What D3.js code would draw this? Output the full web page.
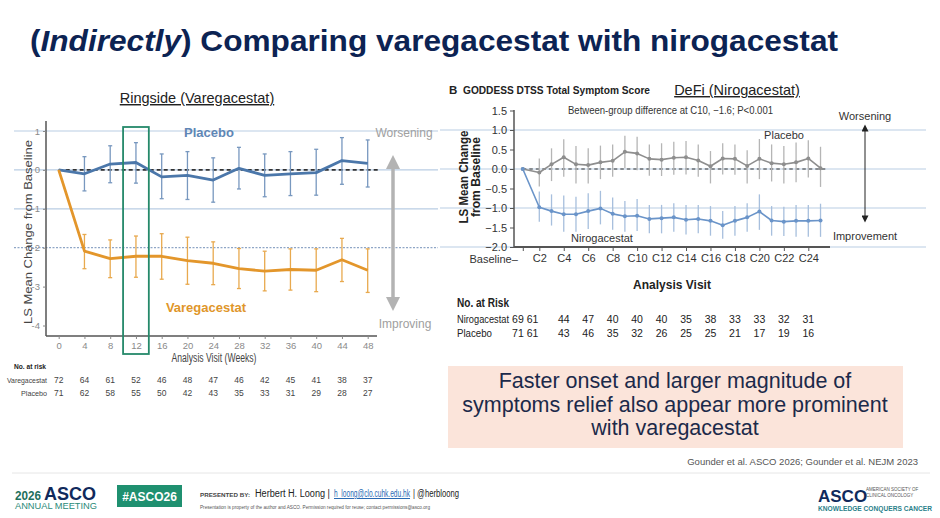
<!DOCTYPE html>
<html>
<head>
<meta charset="utf-8">
<script src="https://cdn.jsdelivr.net/npm/d3@7"></script>
<style>
  body { margin:0; background:#fff; }
  svg { display:block; }
  text { font-family:"Liberation Sans", Arial, sans-serif; }
  .nar { font-family:"Roboto","Liberation Sans",sans-serif; }
  .nejm { font-family:"Lato","Open Sans",sans-serif; }
</style>
</head>
<body>
<div id="slide"></div>
<script>
(function(){
"use strict"
//---Ringside vs DeFi slide---

// left panel: Ringside (weeks)
var weeks = [0,4,8,12,16,20,24,28,32,36,40,44,48];
var plaL    = [0,-0.10,0.15,0.19,-0.18,-0.14,-0.26,0.04,-0.14,-0.10,-0.07,0.24,0.17];
var plaL_hi = [0,0.34,0.62,0.70,0.41,0.47,0.31,0.58,0.41,0.47,0.53,0.83,0.77];
var plaL_lo = [0,-0.54,-0.33,-0.34,-0.74,-0.76,-0.83,-0.49,-0.69,-0.66,-0.65,-0.37,-0.44];
var vare    = [0,-2.09,-2.28,-2.22,-2.22,-2.33,-2.40,-2.54,-2.60,-2.56,-2.58,-2.31,-2.58];
var vare_hi = [0,-1.66,-1.80,-1.70,-1.64,-1.73,-1.85,-2.02,-2.09,-2.03,-2.03,-1.76,-2.03];
var vare_lo = [0,-2.54,-2.77,-2.76,-2.81,-2.94,-2.95,-3.05,-3.11,-3.09,-3.13,-2.87,-3.15];
var yTicksL = [1,0,-1,-2,-3,-4];
var riskVare = [72,64,61,52,46,48,47,46,42,45,41,38,37];
var riskPlaL = [71,62,58,55,50,42,43,35,33,31,29,28,27];
var boxWeeks = [10,14];

// right panel: DeFi (cycles, baseline drawn at 0.65)
var cycles = [0.65,2,3,4,5,6,7,8,9,10,11,12,13,14,15,16,17,18,19,20,21,22,23,24,25];
var plaR    = [0,-0.09,0.12,0.30,0.12,0.10,0.17,0.21,0.44,0.40,0.26,0.24,0.29,0.30,0.22,0.07,0.27,0.26,0.08,0.26,0.15,0.12,0.17,0.27,0.02];
var plaR_hi = [0,0.27,0.53,0.76,0.59,0.53,0.60,0.63,0.85,0.83,0.63,0.66,0.70,0.72,0.63,0.46,0.66,0.63,0.48,0.77,0.63,0.59,0.68,0.74,0.57];
var plaR_lo = [0,-0.45,-0.31,-0.20,-0.37,-0.37,-0.26,-0.20,0.02,-0.03,-0.17,-0.18,-0.15,-0.14,-0.20,-0.37,-0.14,-0.15,-0.37,-0.26,-0.32,-0.37,-0.34,-0.22,-0.46];
var niro    = [0,-0.98,-1.08,-1.16,-1.16,-1.08,-1.01,-1.15,-1.21,-1.20,-1.28,-1.26,-1.24,-1.30,-1.28,-1.33,-1.44,-1.33,-1.24,-1.09,-1.32,-1.35,-1.33,-1.33,-1.32];
var niro_hi = [0,-0.58,-0.65,-0.68,-0.71,-0.62,-0.56,-0.73,-0.82,-0.77,-0.92,-0.92,-0.88,-0.92,-0.92,-0.95,-1.08,-0.95,-0.88,-0.65,-0.95,-0.97,-0.92,-0.92,-0.89];
var niro_lo = [0,-1.35,-1.45,-1.61,-1.61,-1.54,-1.42,-1.56,-1.61,-1.59,-1.65,-1.65,-1.61,-1.68,-1.65,-1.71,-1.79,-1.71,-1.61,-1.56,-1.71,-1.72,-1.74,-1.74,-1.74];
var xTickR = [2,4,6,8,10,12,14,16,18,20,22,24];
var yTicksR = [1.5,1.0,0.5,0,-0.5,-1.0,-1.5,-2.0];
var riskCycles = [0.25,1.45,4,6,8,10,12,14,16,18,20,22,24];
var riskNiro = [69,61,44,47,40,40,40,35,38,33,33,32,31];
var riskPlaR = [71,61,43,46,35,32,26,25,25,21,17,19,16];

var summary = ["Faster onset and larger magnitude of",
               "symptoms relief also appear more prominent",
               "with varegacestat"];

var W = 940, H = 518;

var svg = d3.select('#slide').append('svg')
	.attr('width',W)
	.attr('height',H);

// squeeze a text to a given width (stands in for the narrow fonts of the slide)
function fit(sel,w){
	return sel.attr('textLength',w).attr('lengthAdjust','spacingAndGlyphs');
}

var defs = svg.append('defs');
function marker(id,color,w,h){
	defs.append('marker')
		.attr('id',id)
		.attr('viewBox','0 0 10 10')
		.attr('refX',5).attr('refY',5)
		.attr('markerWidth',w).attr('markerHeight',h)
		.attr('orient','auto-start-reverse')
		.attr('markerUnits','userSpaceOnUse')
		.append('path')
			.attr('d','M0,0L10,5L0,10Z')
			.style('fill',color);
}
marker('arrGray','#b3b3b3',16,14);
marker('arrBlack','#222',8,7);

// title
var title = svg.append('text')
	.attr('x',30).attr('y',51)
	.style('font-size','30px')
	.style('font-weight','bold')
	.style('fill','#0c2353');
title.append('tspan').text('(');
title.append('tspan').style('font-style','italic').text('Indirectly');
title.append('tspan').text(') Comparing varegacestat with nirogacestat');
fit(title,808);

//********left panel********
var xL = d3.scaleLinear().domain([0,48]).range([58.7,367.7]);
var yL = d3.scaleLinear().domain([-4,1]).range([325.5,131]);

var gL = svg.append('g');

// slide guide lines
[1,0,-1,-2].forEach(function(v){
	gL.append('line')
		.attr('x1',14).attr('x2',438)
		.attr('y1',yL(v)).attr('y2',yL(v))
		.style('stroke', v===-2 ? '#8fa6c6' : '#b9cde3')
		.style('stroke-width',1.2)
		.style('stroke-dasharray', (v===-2) ? '2,1.5' : null);
});

gL.append('text')
	.attr('x',197).attr('y',103)
	.attr('text-anchor','middle')
	.style('font-size','14.5px')
	.style('fill','#222')
	.style('text-decoration','underline')
	.text('Ringside (Varegacestat)');

// axes
var axL = gL.append('g')
	.attr('class','nar')
	.attr('transform','translate(46,0)')
	.call(d3.axisLeft(yL).tickValues(yTicksL).tickSize(3).tickPadding(3).tickFormat(function(d){return String(d);}));
axL.select('.domain').attr('d','M0,121V336').style('stroke','#555').style('stroke-width',1.5);

var axB = gL.append('g')
	.attr('class','nar')
	.attr('transform','translate(0,336)')
	.call(d3.axisBottom(xL).tickValues(weeks).tickSize(3).tickFormat(function(d){return String(d);}));
axB.select('.domain').attr('d','M46,0H377').style('stroke','#555').style('stroke-width',1.5);
[axL,axB].forEach(function(a){
	a.selectAll('text').style('fill','#8a8a8a').style('font-size','9.5px');
	a.selectAll('.tick line').style('stroke','#888');
});

fit(gL.append('text')
	.attr('transform','translate(32,232) rotate(-90)')
	.attr('text-anchor','middle')
	.style('font-size','11px')
	.style('fill','#444')
	.text('LS Mean Change from Baseline'),184);

fit(gL.append('text')
	.attr('x',214).attr('y',362)
	.attr('text-anchor','middle')
	.style('font-size','12px')
	.style('fill','#444')
	.text('Analysis Visit (Weeks)'),85);

// zero reference
gL.append('line')
	.attr('x1',xL(0)).attr('x2',xL(48)+10)
	.attr('y1',yL(0)).attr('y2',yL(0))
	.style('stroke','#333')
	.style('stroke-width',1.6)
	.style('stroke-dasharray','4,3');

function errBars(g,x,y,xs,hi,lo,color,cap){
	xs.forEach(function(d,i){
		if (hi[i]===lo[i]) {return;}
		g.append('line')
			.attr('x1',x(d)).attr('x2',x(d))
			.attr('y1',y(hi[i])).attr('y2',y(lo[i]))
			.style('stroke',color).style('stroke-width',1.3);
		if (cap) {
			[hi[i],lo[i]].forEach(function(v){
				g.append('line')
					.attr('x1',x(d)-cap).attr('x2',x(d)+cap)
					.attr('y1',y(v)).attr('y2',y(v))
					.style('stroke',color).style('stroke-width',1.3);
			});
		}
	});
}

function drawLine(g,x,y,xs,vals,color,w){
	g.append('path')
		.datum(vals)
		.attr('d',d3.line().x(function(d,i){return x(xs[i]);}).y(function(d){return y(d);}))
		.style('fill','none')
		.style('stroke',color)
		.style('stroke-width',w)
		.style('stroke-linejoin','round');
}

errBars(gL,xL,yL,weeks,plaL_hi,plaL_lo,'#7898bf',2);
errBars(gL,xL,yL,weeks,vare_hi,vare_lo,'#e8a94e',2);
drawLine(gL,xL,yL,weeks,plaL,'#4b77aa',2.8);
drawLine(gL,xL,yL,weeks,vare,'#e3962b',2.8);

// 12-week box
gL.append('rect')
	.attr('x',xL(boxWeeks[0])).attr('y',127)
	.attr('width',xL(boxWeeks[1])-xL(boxWeeks[0]))
	.attr('height',227)
	.style('fill','none')
	.style('stroke','#25896a')
	.style('stroke-width',1.8);

gL.append('text')
	.attr('x',209).attr('y',137)
	.attr('text-anchor','middle')
	.style('font-size','13px').style('font-weight','bold')
	.style('fill','#5f86b5')
	.text('Placebo');
gL.append('text')
	.attr('x',206).attr('y',312)
	.attr('text-anchor','middle')
	.style('font-size','13px').style('font-weight','bold')
	.style('fill','#e0962a')
	.text('Varegacestat');

gL.append('text')
	.attr('x',404).attr('y',137)
	.attr('text-anchor','middle')
	.style('font-size','12px').style('fill','#a0a0a0')
	.text('Worsening');
gL.append('text')
	.attr('x',405).attr('y',328)
	.attr('text-anchor','middle')
	.style('font-size','12px').style('fill','#a0a0a0')
	.text('Improving');
gL.append('line')
	.attr('x1',393).attr('x2',393)
	.attr('y1',162).attr('y2',304)
	.style('stroke','#b3b3b3')
	.style('stroke-width',3.5)
	.attr('marker-start','url(#arrGray)')
	.attr('marker-end','url(#arrGray)');

// number at risk (left)
var nL = gL.append('g').attr('class','nar').style('font-size','8px').style('fill','#444');
fit(nL.append('text').attr('x',14).attr('y',369).style('font-weight','bold').style('fill','#222').text('No. at risk'),32);
[['Varegacestat',riskVare,383,40],['Placebo',riskPlaL,396,26]].forEach(function(r){
	fit(nL.append('text').attr('x',47-r[3]).attr('y',r[2]).text(r[0]),r[3]);
	nL.selectAll(null).data(r[1]).enter().append('text')
		.attr('x',function(d,i){return xL(weeks[i]);})
		.attr('y',r[2])
		.attr('text-anchor','middle')
		.style('font-size','8.5px')
		.text(function(d){return d;});
});

//********right panel********
var xR = d3.scaleLinear().domain([2,24]).range([539.3,808.3]);
var yR = d3.scaleLinear().domain([-2,1.5]).range([247,110.5]);

var gR = svg.append('g').attr('class','nejm');

[1,0,-1,-2].forEach(function(v){
	gR.append('line')
		.attr('x1',440).attr('x2',926)
		.attr('y1',yR(v)).attr('y2',yR(v))
		.style('stroke','#b9cde3')
		.style('stroke-width',1.2);
});

gR.append('text')
	.attr('x',449).attr('y',94)
	.style('font-size','11.5px').style('font-weight','bold').style('fill','#222')
	.text('B');
fit(gR.append('text')
	.attr('x',463).attr('y',94)
	.style('font-size','11px').style('font-weight','bold').style('fill','#222')
	.text('GODDESS DTSS Total Symptom Score'),187);
gR.append('text')
	.attr('x',737).attr('y',95)
	.attr('text-anchor','middle')
	.style('font-family','"Liberation Sans", Arial, sans-serif')
	.style('font-size','14.5px')
	.style('fill','#222')
	.style('text-decoration','underline')
	.text('DeFi (Nirogacestat)');
fit(gR.append('text')
	.attr('x',568).attr('y',114)
	.style('font-size','10.5px').style('fill','#333')
	.text('Between-group difference at C10, \u22121.6; P<0.001'),205);

var ayR = gR.append('g')
	.attr('transform','translate(514,0)')
	.call(d3.axisLeft(yR).tickValues(yTicksR).tickSize(4).tickFormat(d3.format('.1f')));
ayR.select('.domain').attr('d','M0,110V247').style('stroke','#555').style('stroke-width',1.5);

var axR = gR.append('g')
	.attr('transform','translate(0,247)')
	.call(d3.axisBottom(xR).tickValues([0.65].concat(xTickR)).tickSize(4)
		.tickFormat(function(d){return d===0.65 ? '' : 'C'+d;}));
axR.select('.domain').attr('d','M514,0H830').style('stroke','#555').style('stroke-width',2);
[ayR,axR].forEach(function(a){
	a.selectAll('text').style('fill','#333').style('font-size','11px');
	a.selectAll('.tick line').style('stroke','#555');
});
gR.append('text')
	.attr('x',xR(0.65)-5).attr('y',263)
	.attr('text-anchor','end')
	.style('font-size','11px').style('fill','#333')
	.text('Baseline\u2013');

fit(gR.append('text')
	.attr('transform','translate(468,177) rotate(-90)')
	.attr('text-anchor','middle')
	.style('font-size','13px').style('font-weight','bold').style('fill','#222')
	.text('LS Mean Change'),93);
fit(gR.append('text')
	.attr('transform','translate(480,177) rotate(-90)')
	.attr('text-anchor','middle')
	.style('font-size','13px').style('font-weight','bold').style('fill','#222')
	.text('from Baseline'),80);

gR.append('text')
	.attr('x',672).attr('y',289)
	.attr('text-anchor','middle')
	.style('font-size','12px').style('font-weight','bold').style('fill','#222')
	.text('Analysis Visit');

gR.append('line')
	.attr('x1',xR(0.65)).attr('x2',826)
	.attr('y1',yR(0)).attr('y2',yR(0))
	.style('stroke','#333')
	.style('stroke-width',1.2)
	.style('stroke-dasharray','3.5,3');

errBars(gR,xR,yR,cycles,plaR_hi,plaR_lo,'#b5b5b5',0);
errBars(gR,xR,yR,cycles,niro_hi,niro_lo,'#a7bfdd',0);
drawLine(gR,xR,yR,cycles,plaR,'#8e8e8e',1.6);
drawLine(gR,xR,yR,cycles,niro,'#6a94c9',1.6);
[[plaR,'#8e8e8e'],[niro,'#6a94c9']].forEach(function(s){
	gR.selectAll(null).data(s[0]).enter().append('circle')
		.attr('cx',function(d,i){return xR(cycles[i]);})
		.attr('cy',function(d){return yR(d);})
		.attr('r',2)
		.style('fill',s[1]);
});

gR.append('text')
	.attr('x',784).attr('y',139)
	.attr('text-anchor','middle')
	.style('font-size','11px').style('fill','#333')
	.text('Placebo');
gR.append('text')
	.attr('x',602).attr('y',242)
	.attr('text-anchor','middle')
	.style('font-size','11px').style('fill','#333')
	.text('Nirogacestat');

gR.append('text')
	.attr('x',865).attr('y',120)
	.attr('text-anchor','middle')
	.style('font-size','11px').style('fill','#333')
	.text('Worsening');
gR.append('text')
	.attr('x',865).attr('y',240)
	.attr('text-anchor','middle')
	.style('font-size','11px').style('fill','#333')
	.text('Improvement');
gR.append('line')
	.attr('x1',865).attr('x2',865)
	.attr('y1',128).attr('y2',219)
	.style('stroke','#222')
	.style('stroke-width',1)
	.attr('marker-start','url(#arrBlack)')
	.attr('marker-end','url(#arrBlack)');

// number at risk (right)
var nR = gR.append('g').style('font-size','10.5px').style('fill','#222');
fit(nR.append('text').attr('x',457).attr('y',307).style('font-weight','bold').style('font-size','12px').text('No. at Risk'),52);
[['Nirogacestat',riskNiro,323,52],['Placebo',riskPlaR,337,35]].forEach(function(r){
	fit(nR.append('text').attr('x',457).attr('y',r[2]).text(r[0]),r[3]);
	nR.selectAll(null).data(r[1]).enter().append('text')
		.attr('x',function(d,i){return xR(riskCycles[i]);})
		.attr('y',r[2])
		.attr('text-anchor','middle')
		.text(function(d){return d;});
});

//********summary box + footer********
svg.append('rect')
	.attr('x',448).attr('y',366)
	.attr('width',455).attr('height',82)
	.style('fill','#fbe4da');
svg.selectAll('.summ').data(summary).enter().append('text')
	.attr('class','summ')
	.attr('x',675)
	.attr('y',function(d,i){return 388+i*23.5;})
	.attr('text-anchor','middle')
	.style('font-size','21.5px')
	.style('fill','#1c2a4a')
	.text(function(d){return d;});

svg.append('text')
	.attr('x',918).attr('y',465)
	.attr('text-anchor','end')
	.style('font-size','9.5px').style('fill','#555')
	.text('Gounder et al. ASCO 2026; Gounder et al. NEJM 2023');

svg.append('line')
	.attr('x1',12).attr('x2',930)
	.attr('y1',473).attr('y2',473)
	.style('stroke','#e6e6e6').style('stroke-width',1);

// footer logos
fit(svg.append('text').attr('x',15).attr('y',500)
	.style('font-size','12.5px').style('font-weight','bold').style('fill','#1e6f5c')
	.text('2026'),26);
fit(svg.append('text').attr('x',44).attr('y',500)
	.style('font-size','18px').style('font-weight','bold').style('fill','#102a5c')
	.text('ASCO'),52);
fit(svg.append('text').attr('x',15).attr('y',509)
	.style('font-size','8.5px').style('fill','#2a8a78')
	.text('ANNUAL MEETING'),82);
svg.append('rect').attr('x',117).attr('y',485).attr('width',65).attr('height',22)
	.style('fill','#1f9070');
svg.append('text').attr('x',149.5).attr('y',500.5).attr('text-anchor','middle')
	.style('font-size','12px').style('font-weight','bold').style('fill','#fff')
	.text('#ASCO26');

fit(svg.append('text').attr('x',200).attr('y',497)
	.style('font-size','5.5px').style('font-weight','bold').style('fill','#444')
	.text('PRESENTED BY:'),50);
fit(svg.append('text').attr('x',255).attr('y',497)
	.style('font-size','10px').style('fill','#222')
	.text('Herbert H. Loong |'),75);
fit(svg.append('text').attr('x',334).attr('y',497)
	.style('font-size','10px').style('fill','#2a6ab3').style('text-decoration','underline')
	.text('h_loong@clo.cuhk.edu.hk'),76);
fit(svg.append('text').attr('x',413).attr('y',497)
	.style('font-size','10px').style('fill','#222')
	.text('| @herbloong'),46);
fit(svg.append('text').attr('x',200).attr('y',509)
	.style('font-size','5.3px').style('fill','#555')
	.text('Presentation is property of the author and ASCO. Permission required for reuse; contact permissions@asco.org'),230);

svg.append('text').attr('x',818).attr('y',502)
	.style('font-size','17px').style('font-weight','bold').style('fill','#102a5c')
	.text('ASCO');
svg.append('text').attr('x',866).attr('y',491)
	.style('font-size','4.5px').style('fill','#555')
	.text('AMERICAN SOCIETY OF');
svg.append('text').attr('x',866).attr('y',497)
	.style('font-size','4.5px').style('fill','#555')
	.text('CLINICAL ONCOLOGY');
fit(svg.append('text').attr('x',818).attr('y',511)
	.style('font-size','6.5px').style('font-weight','bold').style('fill','#2a7f8a')
	.text('KNOWLEDGE CONQUERS CANCER'),114);

})();
</script>
</body>
</html>
